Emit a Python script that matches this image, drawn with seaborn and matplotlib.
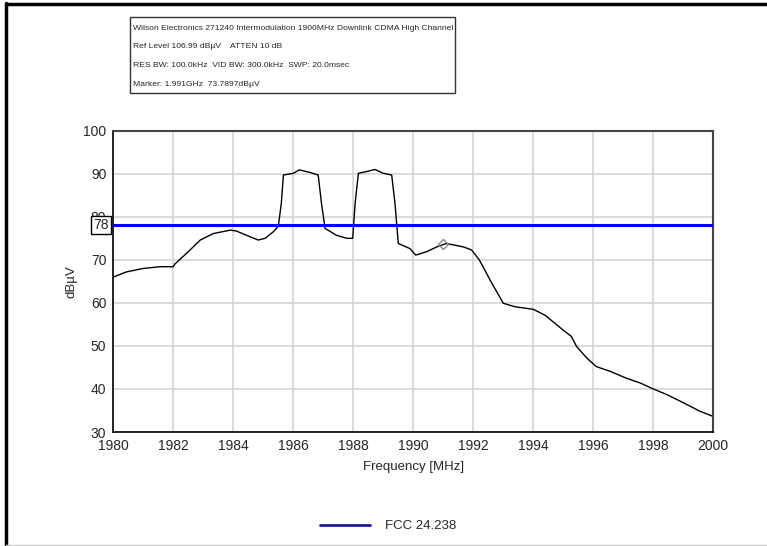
import matplotlib
matplotlib.use("Agg")
import matplotlib.pyplot as plt
import matplotlib.transforms as mtransforms
from matplotlib.lines import Line2D
from matplotlib.patches import Rectangle
from matplotlib.ticker import MultipleLocator
import pandas as pd
import seaborn as sns

# Trace leido do grafico (MHz, dBuV)
freq_mhz = [1980.0, 1980.44, 1981.0, 1981.56, 1982.0, 1982.05, 1982.44, 1982.9,
            1983.33, 1983.9, 1984.1, 1984.44, 1984.83, 1985.06, 1985.33, 1985.5,
            1985.6, 1985.67, 1986.0, 1986.2, 1986.56, 1986.83, 1986.94, 1987.06,
            1987.44, 1987.78, 1987.98, 1988.06, 1988.17, 1988.44, 1988.72, 1989.0,
            1989.28, 1989.39, 1989.5, 1989.89, 1990.08, 1990.45, 1990.78, 1991.1,
            1991.67, 1991.94, 1992.2, 1992.56, 1993.0, 1993.39, 1994.0, 1994.4,
            1994.99, 1995.27, 1995.44, 1995.78, 1996.1, 1996.56, 1997.1, 1997.56,
            1998.0, 1998.45, 1999.0, 1999.56, 2000.0]
level_dbuv = [66.0, 67.2, 68.0, 68.4, 68.4, 69.0, 71.5, 74.6,
              76.1, 76.9, 76.7, 75.7, 74.6, 75.0, 76.5, 77.8,
              83.1, 89.7, 90.1, 90.9, 90.3, 89.7, 83.1, 77.3,
              75.7, 75.0, 75.0, 83.1, 90.1, 90.5, 91.0, 90.1,
              89.7, 83.1, 73.8, 72.6, 71.1, 71.9, 73.0, 73.8,
              73.0, 72.3, 70.0, 65.3, 59.9, 59.1, 58.5, 57.1,
              53.7, 52.2, 49.9, 47.2, 45.2, 44.1, 42.5, 41.4,
              40.0, 38.7, 36.8, 34.8, 33.6]

limit_dbuv = 78
limit_name = "FCC 24.238"
marker_freq = 1991.0
marker_level = 73.79

header_lines = [
    "Wilson Electronics 271240 Intermodulation 1900MHz Downlink CDMA High Channel",
    "Ref Level 106.99 dB\u00b5V    ATTEN 10 dB",
    "RES BW: 100.0kHz  VID BW: 300.0kHz  SWP: 20.0msec",
    "Marker: 1.991GHz  73.7897dB\u00b5V",
]

sns.set_style("white")
plt.rcParams['font.family'] = ['Liberation Sans', 'DejaVu Sans']

W, H = 767, 546
fig = plt.figure(figsize=(W / 100, H / 100), dpi=100)
ax = fig.add_axes([113.3 / W, 1 - 432 / H, 600 / W, (432 - 130.7) / H])

df = pd.DataFrame({"freq": freq_mhz, "level": level_dbuv})
sns.lineplot(data=df, x="freq", y="level", ax=ax, color="black", linewidth=1.0)
ax.axhline(limit_dbuv, color="#0000ff", linewidth=2.2, zorder=3)
ax.plot([marker_freq], [marker_level], marker="D", markersize=5,
        markerfacecolor="none", markeredgecolor="#888888", zorder=4)

ax.set_xlim(1980, 2000)
ax.set_ylim(30, 100)
ax.xaxis.set_major_locator(MultipleLocator(2))
ax.xaxis.set_minor_locator(MultipleLocator(1))
ax.yaxis.set_major_locator(MultipleLocator(10))
ax.yaxis.set_minor_locator(MultipleLocator(5))
ax.tick_params(which="both", direction="inout", length=6, width=1, color="black",
               labelsize=10, pad=2)
ax.grid(True, which="major", color="#d4d4d4", linewidth=1.2)
for side in ["left", "bottom"]:
    ax.spines[side].set_color("black")
    ax.spines[side].set_linewidth(1.2)
for side in ["top", "right"]:
    ax.spines[side].set_color("#444444")
    ax.spines[side].set_linewidth(1.5)

ax.set_xlabel("Frequency [MHz]", fontsize=9.5, labelpad=6)
ax.set_ylabel("dB\u00b5V", fontsize=9.5, labelpad=4)

# caixa do valor do limite no eixo y
trans = mtransforms.blended_transform_factory(ax.transAxes, ax.transData)
ax.text(-0.008, limit_dbuv, str(limit_dbuv), transform=trans, ha="right", va="center",
        fontsize=10, zorder=5,
        bbox=dict(boxstyle="square,pad=0.15", facecolor="white", edgecolor="black", linewidth=1))

# cabecalho
fig.patches.append(Rectangle((130 / W, 1 - 93 / H), 325 / W, 76 / H, transform=fig.transFigure,
                             facecolor="white", edgecolor="#333333", linewidth=1))
for i, line in enumerate(header_lines):
    fig.text(133 / W, 1 - (28 + i * 18.7) / H, line, ha="left", va="center", fontsize=6.1)

# legenda
handle = Line2D([], [], color="#1a1a9a", linewidth=2)
fig.legend([handle], [limit_name], loc="center", bbox_to_anchor=(388 / W, 1 - 526 / H),
           frameon=False, fontsize=9.5, handlelength=3.8, handletextpad=1.1)

# moldura da imagem
fig.add_artist(Line2D([6 / W, 6 / W], [0, 1 - 3 / H], color="black", linewidth=2.5))
fig.add_artist(Line2D([6 / W, 1], [1 - 3.5 / H, 1 - 3.5 / H], color="black", linewidth=2.5))
fig.add_artist(Line2D([6 / W, 1], [1.5 / H, 1.5 / H], color="#cccccc", linewidth=1))

fig.savefig("out.png", dpi=100)
